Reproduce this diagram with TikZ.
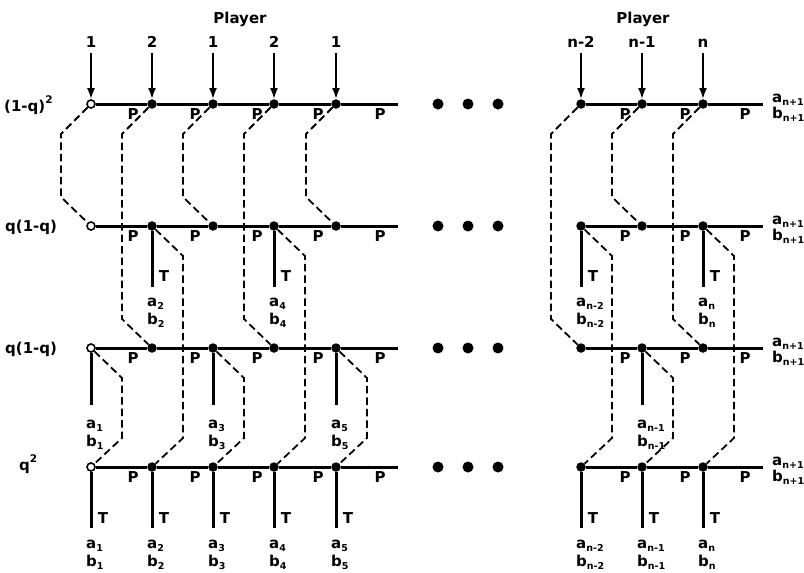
\documentclass[tikz,border=0pt]{standalone}
\usepackage{fontspec}
\setmainfont{DejaVu Sans}
\usetikzlibrary{arrows.meta,calc}
\newcommand{\sbs}[1]{\raisebox{-0.45ex}{\fontsize{9.5}{10}\selectfont #1}}
\newcommand{\sps}[1]{\raisebox{0.95ex}{\fontsize{10.5}{11}\selectfont #1}}
\begin{document}
\begin{tikzpicture}[x=1pt,y=-1pt,
  lbl/.style={font=\fontsize{15}{17}\selectfont\bfseries, inner sep=0pt},
  mainline/.style={line width=3pt},
  fnode/.style={circle, fill=black, minimum size=9.5pt, inner sep=0pt},
  onode/.style={circle, draw=black, fill=white, line width=1.6pt, minimum size=8pt, inner sep=0pt},
  infoset/.style={line width=1.8pt, dash pattern=on 7.5pt off 4pt},
  arr/.style={line width=1.9pt, -{Latex[length=11pt,width=8pt]}},
  bigdot/.style={circle, fill=black, minimum size=11pt, inner sep=0pt}]
\useasboundingbox (0,0) rectangle (804,573);
% nodes
\foreach \c/\x in {1/91,2/152,3/213,4/274,5/336,6/581,7/642,8/703}{
  \foreach \r/\y in {1/104,2/226,3/348,4/467}{
    \ifnum\c=1
      \node[onode] (n\r\c) at (\x,\y) {};
    \else
      \node[fnode] (n\r\c) at (\x,\y) {};
    \fi
  }
}
% line ends, ellipsis dots and P labels
\foreach \r/\y in {1/104,2/226,3/348,4/467}{
  \coordinate (eL\r) at (398,\y);
  \coordinate (eR\r) at (763,\y);
  \foreach \k/\x in {1/438,2/468,3/498}
    \node[bigdot] (d\r\k) at (\x,\y) {};
  \foreach \x in {133,195,257,318,380,625,685,745}
    \node[lbl, anchor=base] (P\r-\x) at (\x,\y+15.5) {P};
  \node[lbl, anchor=base west] (an\r) at (772,\y-2) {a\sbs{n+1}};
  \node[lbl, anchor=base west] (bn\r) at (772,\y+14) {b\sbs{n+1}};
}
% horizontal lines
\foreach \r in {1,2,3,4}{
  \draw[mainline] (n\r1) -- (n\r2) -- (n\r3) -- (n\r4) -- (n\r5) -- (eL\r);
  \draw[mainline] (n\r6) -- (n\r7) -- (n\r8) -- (eR\r);
}
% player arrows
\foreach \c/\x/\t in {1/91/1,2/152/2,3/213/1,4/274/2,5/336/1,6/581/n-2,7/642/n-1,8/703/n}{
  \coordinate (t\c) at (\x,53);
  \draw[arr] (t\c) -- (n1\c);
  \node[lbl, anchor=base] (num\c) at (\x,47.5) {\t};
}
\node[lbl, anchor=base] (play1) at (240,23) {Player};
\node[lbl, anchor=base] (play2) at (643,23) {Player};
% terminal branches, row 2
\foreach \c/\x/\s in {2/152/2,4/274/4,6/581/n-2,8/703/n}{
  \coordinate (b2\c) at (\x,287);
  \draw[mainline] (n2\c) -- (b2\c);
  \node[lbl, anchor=base] (T2\c) at (\x+12,281) {T};
  \node[lbl, anchor=base west] (a2\c) at (\x-5,306) {a\sbs{\s}};
  \node[lbl, anchor=base west] (bb2\c) at (\x-5,324) {b\sbs{\s}};
}
% terminal branches, row 3
\foreach \c/\x/\s in {1/91/1,3/213/3,5/336/5,7/642/n-1}{
  \coordinate (b3\c) at (\x,405);
  \draw[mainline] (n3\c) -- (b3\c);
  \node[lbl, anchor=base west] (a3\c) at (\x-5,428) {a\sbs{\s}};
  \node[lbl, anchor=base west] (bb3\c) at (\x-5,446) {b\sbs{\s}};
}
% terminal branches, row 4
\foreach \c/\x/\s in {1/91/1,2/152/2,3/213/3,4/274/4,5/336/5,6/581/n-2,7/642/n-1,8/703/n}{
  \coordinate (b4\c) at (\x,528);
  \draw[mainline] (n4\c) -- (b4\c);
  \node[lbl, anchor=base] (T4\c) at (\x+12,523) {T};
  \node[lbl, anchor=base west] (a4\c) at (\x-5,548) {a\sbs{\s}};
  \node[lbl, anchor=base west] (bb4\c) at (\x-5,566) {b\sbs{\s}};
}
% information sets from row 1 (to the left)
\foreach \c/\t in {1/2,2/3,3/2,4/3,5/2,6/3,7/2,8/3}{
  \draw[infoset] (n1\c) -- ($(n1\c)+(-30,30)$) -- ($(n\t\c)+(-30,-29)$) -- (n\t\c);
}
% information sets from rows 2 and 3 (to the right)
\foreach \r/\c in {2/2,2/4,2/6,2/8,3/1,3/3,3/5,3/7}{
  \draw[infoset] (n\r\c) -- ($(n\r\c)+(31,30)$) -- ($(n4\c)+(31,-29)$) -- (n4\c);
}
% row labels
\node[lbl, anchor=base west] (r1) at (4,111) {(1-q)\sps{2}};
\node[lbl, anchor=base west] (r2) at (5,231) {q(1-q)};
\node[lbl, anchor=base west] (r3) at (5,353) {q(1-q)};
\node[lbl, anchor=base west] (r4) at (19,470) {q\sps{2}};
\end{tikzpicture}
\end{document}
